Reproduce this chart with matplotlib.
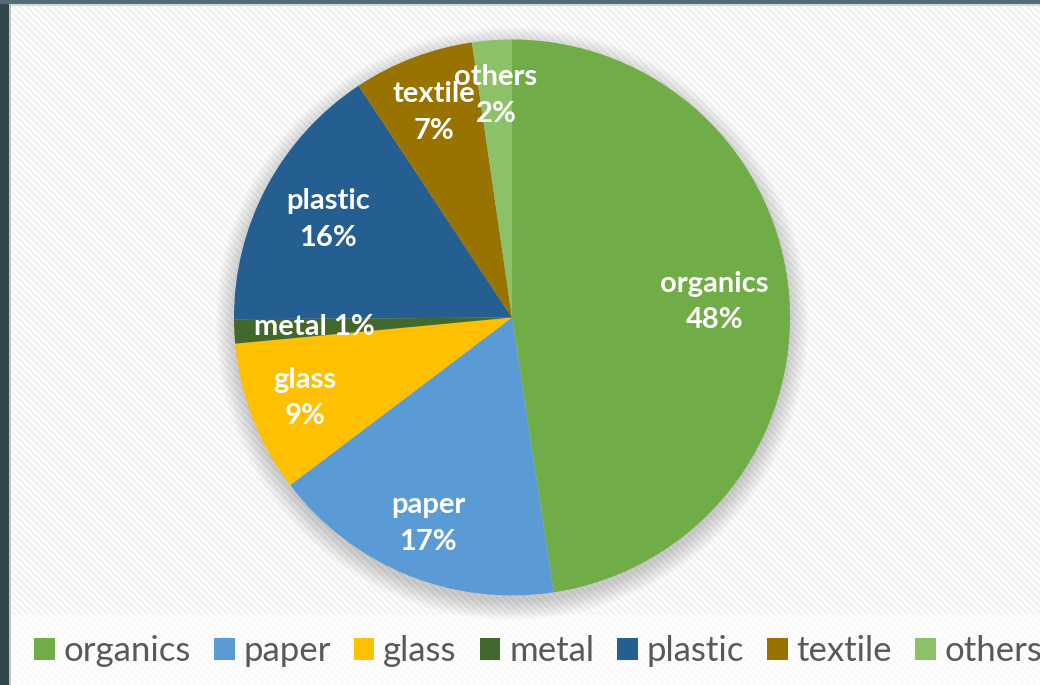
import numpy as np
import matplotlib
matplotlib.use('Agg')
import matplotlib.pyplot as plt
from matplotlib.patches import Rectangle, Circle

plt.rcParams['font.family'] = ['Lato', 'DejaVu Sans']
plt.rcParams['hatch.linewidth'] = 2.0

# Waste composition (share, %)
names = ['organics', 'paper', 'glass', 'metal', 'plastic', 'textile', 'others']
shares = [47.6, 17.1, 8.8, 1.4, 15.8, 7.0, 2.3]
colors = ['#70AD47', '#5B9BD5', '#FFC000', '#43682B', '#255E91', '#997300', '#8CC168']
# radial position of each data label (fraction of radius)
label_dist = [0.73, 0.80, 0.80, 0.71, 0.75, 0.79, 0.80]

W, H = 1040, 685
fig = plt.figure(figsize=(W / 100, H / 100), dpi=100)
fig.patch.set_facecolor('#33464f')

# white chart panel with faint diagonal texture
panel = Rectangle((11 / W, 0), 1, 1 - 5 / H, transform=fig.transFigure,
                  facecolor='white', edgecolor='#f2f2f2', hatch='\\\\\\\\\\',
                  linewidth=0, zorder=-5)
fig.patches.append(panel)
fig.patches.append(Rectangle((0, 1 - 4 / H), 1, 4 / H, transform=fig.transFigure,
                             facecolor='#566b78', linewidth=0, zorder=-4))
fig.patches.append(Rectangle((9 / W, 0), 2 / W, 1 - 4 / H, transform=fig.transFigure,
                             facecolor='#bfc4c7', linewidth=0, zorder=-4))
fig.patches.append(Rectangle((11 / W, 1 - 6 / H), 1, 2 / H, transform=fig.transFigure,
                             facecolor='#d5d8da', linewidth=0, zorder=-4))
# legend strip is a bit lighter
fig.patches.append(Rectangle((11 / W, 0), 1, 70 / H, transform=fig.transFigure,
                             facecolor='white', alpha=0.6, linewidth=0, zorder=-4))

cx, cy, r = 512, 317.5, 278
ax = fig.add_axes([(cx - r) / W, (H - cy - r) / H, 2 * r / W, 2 * r / H])
ax.set_zorder(2)
ax.axis('off')

# soft shadow beneath the pie
for k in range(12):
    ax.add_patch(Circle((0.0, -0.022), 1.0 + k * 0.006, facecolor='black',
                        alpha=0.016, linewidth=0, zorder=0, clip_on=False))

wedges, _ = ax.pie(shares, colors=colors, startangle=90, counterclock=False,
                   radius=1.0, wedgeprops=dict(linewidth=0))
ax.set_xlim(-1.0, 1.0)
ax.set_ylim(-1.0, 1.0)
for w in wedges:
    w.set_zorder(2)

for w, name, val, d in zip(wedges, names, shares, label_dist):
    mid = np.deg2rad((w.theta1 + w.theta2) / 2)
    x, y = d * np.cos(mid), d * np.sin(mid)
    if name == 'metal':
        txt = '{} {:.0f}%'.format(name, val)
    else:
        txt = '{}\n{:.0f}%'.format(name, val)
    ax.text(x, y, txt, ha='center', va='center', color='white', fontsize=21,
            fontweight='bold', linespacing=1.5, zorder=5)

leg = fig.legend(wedges, names, loc='center left',
                 bbox_to_anchor=(34 / W, 1 - 651 / H), ncol=7, frameon=False,
                 fontsize=25, handlelength=0.6, handleheight=0.6,
                 handletextpad=0.25, columnspacing=0.66,
                 borderpad=0, borderaxespad=0)
for t in leg.get_texts():
    t.set_color('#595959')

fig.savefig('out.png', dpi=100)
